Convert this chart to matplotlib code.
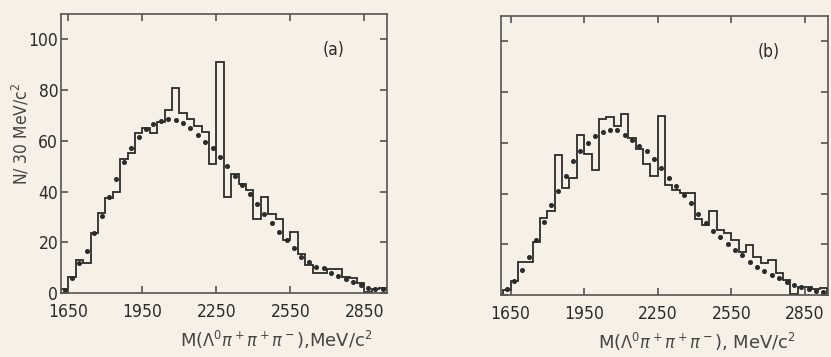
import numpy as np
import matplotlib
matplotlib.use('Agg')
import matplotlib.pyplot as plt

plt.rcParams['font.family'] = ['DejaVu Sans']
plt.rcParams['font.stretch'] = 'condensed'
plt.rcParams['mathtext.fontset'] = 'dejavusans'

# %% data (30 MeV bins from 1620 MeV)
bin_edges = np.arange(1620, 2941, 30)
bin_centers = bin_edges[:-1] + 15

hist_a = [1.5, 6.5, 13, 12, 23.5, 31.5, 37.5, 40, 53, 55,
          63, 65, 63, 67.5, 72, 81, 71, 68.5, 66, 63.5,
          51, 91, 38, 47, 43, 40.5, 29, 38, 31, 29,
          21, 24, 15.5, 11, 7.7, 7.7, 9.3, 9.3, 6.5, 5.8,
          3.8, 0.5, 1.5, 2]
dots_a = [1, 6, 12, 16.5, 23.5, 30.5, 38, 45, 51.5, 57,
          61.5, 64.5, 66.5, 68, 68.5, 68.3, 67, 65, 62.3, 59.6,
          57, 53.7, 50, 46, 42.5, 39, 35, 31, 27.5, 24,
          21, 17.6, 14.3, 12.3, 10.4, 9.7, 8, 6.7, 5.4, 4.5,
          3.1, 1.8, 1.5, 1.5]

hist_b = [2, 5.5, 13.2, 13.2, 21, 30.3, 33, 55, 42.3, 46.3,
          63, 55.5, 49.4, 69.4, 70.3, 66.8, 71.4, 62, 57.5, 51.5,
          47, 70.4, 43.3, 41.3, 40.2, 40.2, 30, 27.4, 33, 25.7,
          24.5, 21.5, 17.1, 19.7, 15, 12.5, 13.8, 8.6, 6, 0.3,
          3.3, 3.3, 2.2, 2.6]
dots_b = [2.5, 5.7, 9.9, 14.8, 21.7, 28.7, 35.3, 41.1, 47.1, 52.7,
          56.9, 59.9, 62.8, 64.3, 64.9, 64.9, 63.2, 61.3, 58.9, 56.7,
          53.8, 50, 46.1, 42.8, 39.5, 36.2, 32, 28.3, 25.4, 23,
          20, 17.8, 15.8, 13.2, 11.2, 9.6, 7.9, 6.6, 5.3, 4,
          3.1, 2.3, 1.6, 1.2]

xticks = [1650, 1950, 2250, 2550, 2850]
yticks = [0, 20, 40, 60, 80, 100]

bg = '#f6f0e6'
ink = '#2b2b2b'

# %% plot
fig = plt.figure(figsize=(8.31, 3.57), dpi=100, facecolor=bg)
ax_a = fig.add_axes([0.0734, 0.1793, 0.3923, 0.7815], facecolor=bg)
ax_b = fig.add_axes([0.6029, 0.1737, 0.3935, 0.7815], facecolor=bg)


def draw_panel(ax, hist, dots, xlim, tag, tag_xy, xlabel, ylabels):
    ax.stairs(hist, bin_edges, color=ink, lw=1.3)
    ax.plot(bin_centers, dots, ls='none', marker='o', ms=2.6, color=ink)
    ax.set_xlim(xlim)
    ax.set_ylim(0, 110)
    ax.set_xticks(xticks)
    ax.set_yticks(yticks)
    ax.tick_params(direction='in', top=True, right=True, length=5, width=1.1,
                   color='#444444', labelsize=12.5, labelcolor=ink)
    ax.tick_params(axis='x', pad=7)
    ax.tick_params(axis='y', pad=2)
    if not ylabels:
        ax.set_yticklabels([])
    for s in ax.spines.values():
        s.set_color('#555555')
        s.set_linewidth(1.2)
    ax.text(tag_xy[0], tag_xy[1], tag, transform=ax.transAxes, fontsize=12.5,
            color=ink, ha='center', va='center')
    ax.set_xlabel(xlabel, fontsize=13, color='#444444', fontstretch='normal')


draw_panel(ax_a, hist_a, dots_a, (1620, 2942), '(a)', (0.835, 0.87),
           r'M($\Lambda^0\pi^+\pi^+\pi^-$),MeV/c$^2$', True)
draw_panel(ax_b, hist_b, dots_b, (1611, 2944), '(b)', (0.82, 0.87),
           r'M($\Lambda^0\pi^+\pi^+\pi^-$), MeV/c$^2$', False)

ax_a.set_ylabel(r'N/ 30 MeV/c$^2$', fontsize=12.5, color='#444444')
ax_a.yaxis.set_label_coords(-0.09, 0.57)
ax_a.xaxis.set_label_coords(0.66, -0.13)
ax_b.xaxis.set_label_coords(0.6, -0.13)

fig.savefig('out.png', dpi=100, facecolor=bg)
